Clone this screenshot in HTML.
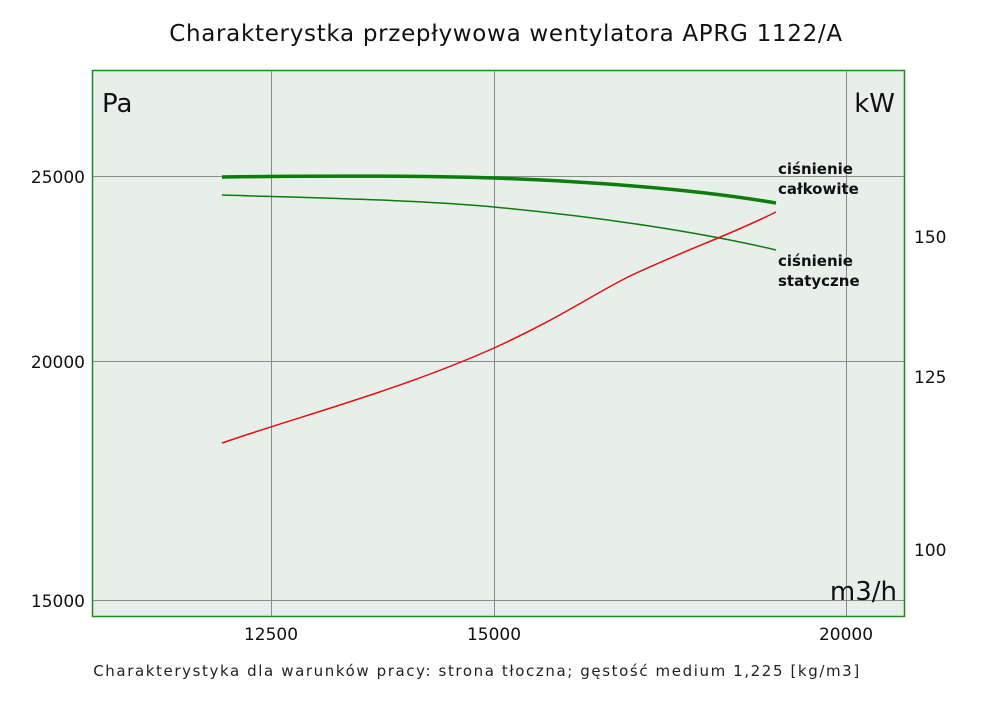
<!DOCTYPE html>
<html><head><meta charset="utf-8"><style>
body{margin:0;background:#fff;}
svg{display:block;font-family:"DejaVu Sans","Liberation Sans",sans-serif;}
</style></head><body>
<svg width="1000" height="706" viewBox="0 0 1000 706">
<rect x="0" y="0" width="1000" height="706" fill="#fff"/>
<text x="506" y="41" font-size="23" letter-spacing="0.7" text-anchor="middle" fill="#111">Charakterystka przepływowa wentylatora APRG 1122/A</text>
<rect x="92.5" y="70.5" width="812" height="546" fill="#e8eeea" stroke="#1a8c1a" stroke-width="1.5"/>
<g stroke="#8a8a8a" stroke-width="1">
<line x1="271.5" y1="71" x2="271.5" y2="616"/>
<line x1="494.5" y1="71" x2="494.5" y2="616"/>
<line x1="846.5" y1="71" x2="846.5" y2="616"/>
<line x1="93" y1="176.5" x2="904" y2="176.5"/>
<line x1="93" y1="361.5" x2="904" y2="361.5"/>
<line x1="93" y1="600.5" x2="904" y2="600.5"/>
</g>
<text x="102" y="112" font-size="26" fill="#111">Pa</text>
<text x="895" y="112" font-size="26" fill="#111" text-anchor="end">kW</text>
<text x="897" y="600" font-size="26" fill="#111" text-anchor="end">m3/h</text>
<g font-size="17" fill="#111">
<text x="85" y="183" text-anchor="end">25000</text>
<text x="85" y="368" text-anchor="end">20000</text>
<text x="85" y="607" text-anchor="end">15000</text>
<text x="914" y="243">150</text>
<text x="914" y="383">125</text>
<text x="914" y="556">100</text>
<text x="271" y="640" text-anchor="middle">12500</text>
<text x="494" y="640" text-anchor="middle">15000</text>
<text x="846" y="640" text-anchor="middle">20000</text>
</g>
<path d="M222,177 C300,176 400,175 494,178 C600,182 700,190 776,203" fill="none" stroke="#0a7d0a" stroke-width="3.5"/>
<path d="M222,195 C320,198 420,200 494,207 C600,217 700,232 776,250" fill="none" stroke="#0a7d0a" stroke-width="1.5"/>
<path d="M222,443 C300,416 400,390 494,348 C560,318 590,296 630,276 C690,248 730,235 776,212" fill="none" stroke="#e01010" stroke-width="1.5"/>
<g font-size="15" fill="#111" font-weight="bold">
<text x="778" y="174">ciśnienie</text>
<text x="778" y="194">całkowite</text>
<text x="778" y="266">ciśnienie</text>
<text x="778" y="286">statyczne</text>
</g>
<text x="477" y="676" font-size="15" fill="#222" text-anchor="middle" letter-spacing="1.6">Charakterystyka dla warunków pracy: strona tłoczna; gęstość medium 1,225 [kg/m3]</text>
</svg>
</body></html>
